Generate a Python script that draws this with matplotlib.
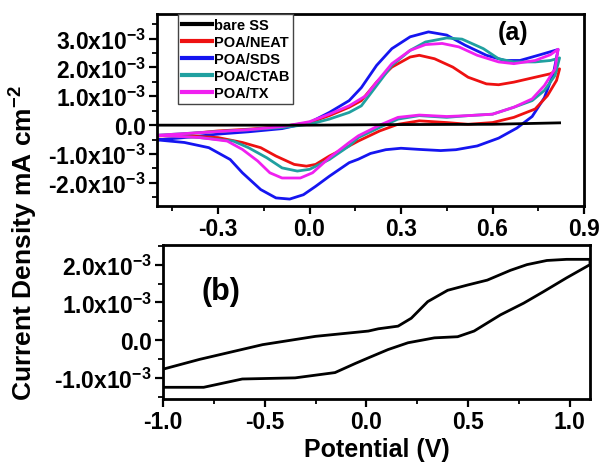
import matplotlib
matplotlib.use("Agg")
import matplotlib.pyplot as plt
from matplotlib.ticker import MultipleLocator, FixedLocator, FixedFormatter

plt.rcParams['font.family'] = ['Liberation Sans', 'DejaVu Sans']
plt.rcParams['font.weight'] = 'bold'
plt.rcParams['mathtext.fontset'] = 'custom'
plt.rcParams['mathtext.rm'] = 'Liberation Sans:bold'
plt.rcParams['mathtext.bf'] = 'Liberation Sans:bold'
plt.rcParams['mathtext.it'] = 'Liberation Sans:bold'
plt.rcParams['mathtext.default'] = 'rm'

# ---- data (current in units of 1e-3 mA cm^-2) ----
series_names = ["bare SS", "POA/NEAT", "POA/SDS", "POA/CTAB", "POA/TX"]
series_colors = ["#000000", "#ee1111", "#1515f0", "#20a0a0", "#f020f0"]

x_bare = [-0.50, -0.20, 0.00, 0.30, 0.60, 0.82]
y_bare = [0.00, 0.00, 0.00, 0.02, 0.03, 0.08]

x_neat = [-0.50, -0.41, -0.30, -0.20, -0.09, 0.00, 0.065, 0.13, 0.17, 0.22, 0.27, 0.33, 0.36, 0.41, 0.47, 0.52, 0.58, 0.62, 0.67, 0.74, 0.79, 0.82,
          0.81, 0.78, 0.74, 0.67, 0.60, 0.52, 0.45, 0.36, 0.29, 0.23, 0.16, 0.13, 0.065, 0.02, -0.01, -0.05, -0.11, -0.16, -0.22, -0.30, -0.41, -0.50]
y_neat = [-0.37, -0.31, -0.20, -0.14, -0.05, 0.09, 0.33, 0.62, 0.85, 1.49, 2.01, 2.36, 2.42, 2.30, 2.01, 1.66, 1.43, 1.40, 1.49, 1.66, 1.78, 1.95,
          1.55, 1.02, 0.56, 0.27, 0.09, 0.03, 0.09, 0.15, 0.03, -0.20, -0.55, -0.72, -1.07, -1.36, -1.42, -1.36, -1.07, -0.78, -0.60, -0.43, -0.37, -0.37]

x_sds = [-0.50, -0.41, -0.30, -0.20, -0.09, 0.00, 0.065, 0.13, 0.17, 0.22, 0.27, 0.33, 0.39, 0.45, 0.51, 0.58, 0.64, 0.69, 0.75, 0.815,
         0.80, 0.77, 0.73, 0.68, 0.62, 0.55, 0.48, 0.43, 0.36, 0.30, 0.25, 0.20, 0.16, 0.13, 0.065, 0.02, -0.02, -0.065, -0.11, -0.16, -0.22, -0.26, -0.33, -0.41, -0.50]
y_sds = [-0.51, -0.43, -0.31, -0.23, -0.12, 0.09, 0.44, 0.85, 1.30, 2.07, 2.65, 3.06, 3.23, 3.12, 2.77, 2.42, 2.24, 2.24, 2.42, 2.62,
         1.80, 0.95, 0.30, -0.10, -0.45, -0.72, -0.85, -0.88, -0.84, -0.80, -0.85, -0.98, -1.18, -1.30, -1.77, -2.12, -2.41, -2.56, -2.52, -2.23, -1.65, -1.19, -0.78, -0.60, -0.51]

x_ctab = [-0.50, -0.36, -0.20, -0.09, 0.00, 0.065, 0.13, 0.17, 0.22, 0.27, 0.33, 0.38, 0.45, 0.50, 0.57, 0.62, 0.67, 0.74, 0.79, 0.82,
          0.805, 0.77, 0.73, 0.67, 0.60, 0.52, 0.45, 0.36, 0.29, 0.23, 0.16, 0.13, 0.065, 0.00, -0.04, -0.09, -0.14, -0.20, -0.25, -0.36, -0.50]
y_ctab = [-0.35, -0.26, -0.16, -0.08, 0.03, 0.21, 0.44, 0.67, 1.37, 2.07, 2.59, 2.88, 3.02, 2.98, 2.65, 2.30, 2.19, 2.19, 2.24, 2.33,
          1.72, 1.20, 0.85, 0.62, 0.38, 0.33, 0.27, 0.33, 0.21, -0.08, -0.43, -0.72, -1.19, -1.53, -1.59, -1.48, -1.13, -0.78, -0.55, -0.43, -0.35]

x_tx = [-0.50, -0.36, -0.20, -0.09, 0.00, 0.065, 0.13, 0.185, 0.22, 0.27, 0.33, 0.38, 0.435, 0.49, 0.55, 0.62, 0.67, 0.74, 0.79, 0.815,
        0.805, 0.77, 0.73, 0.67, 0.60, 0.52, 0.45, 0.36, 0.29, 0.23, 0.16, 0.13, 0.065, 0.01, -0.03, -0.09, -0.13, -0.17, -0.22, -0.27, -0.36, -0.50]
y_tx = [-0.35, -0.26, -0.16, -0.05, 0.12, 0.38, 0.67, 1.02, 1.49, 2.13, 2.59, 2.79, 2.83, 2.71, 2.42, 2.19, 2.13, 2.24, 2.44, 2.63,
        1.95, 1.37, 0.91, 0.62, 0.38, 0.33, 0.30, 0.35, 0.27, 0.00, -0.37, -0.60, -1.13, -1.65, -1.83, -1.83, -1.65, -1.24, -0.84, -0.55, -0.43, -0.35]

x_b = [-1.00, -0.82, -0.51, -0.25, 0.01, 0.059, 0.156, 0.221, 0.302, 0.40, 0.498, 0.595, 0.709, 0.79, 0.888, 0.985, 1.10,
       1.10, 0.985, 0.87, 0.774, 0.66, 0.53, 0.449, 0.335, 0.205, 0.107, 0.01, -0.055, -0.154, -0.35, -0.61, -0.80, -1.00]
y_b = [-0.77, -0.51, -0.12, 0.10, 0.24, 0.30, 0.37, 0.58, 1.02, 1.32, 1.46, 1.59, 1.85, 2.00, 2.11, 2.14, 2.14,
       2.00, 1.65, 1.28, 0.98, 0.67, 0.24, 0.09, 0.06, -0.07, -0.25, -0.47, -0.62, -0.86, -1.00, -1.03, -1.25, -1.25]

yticks_a = [-2, -1, 0, 1, 2, 3]
yticklabels_a = [r"-2.0x10$^{-3}$", r"-1.0x10$^{-3}$", "0.0", r"1.0x10$^{-3}$", r"2.0x10$^{-3}$", r"3.0x10$^{-3}$"]
xticks_a = [-0.3, 0.0, 0.3, 0.6, 0.9]
xticklabels_a = ["-0.3", "0.0", "0.3", "0.6", "0.9"]
yticks_b = [-1, 0, 1, 2]
yticklabels_b = [r"-1.0x10$^{-3}$", "0.0", r"1.0x10$^{-3}$", r"2.0x10$^{-3}$"]
xticks_b = [-1.0, -0.5, 0.0, 0.5, 1.0]
xticklabels_b = ["-1.0", "-0.5", "0.0", "0.5", "1.0"]

W, H = 603, 464
fig = plt.figure(figsize=(W / 100, H / 100), dpi=100)
ax1 = fig.add_axes([157 / W, 1 - 207 / H, 427 / W, 192 / H])
ax2 = fig.add_axes([163 / W, 1 - 400 / H, 427 / W, 154 / H])

lw = 2.0
xs = [x_bare, x_neat, x_sds, x_ctab, x_tx]
ys = [y_bare, y_neat, y_sds, y_ctab, y_tx]
handles = {}
for i in [2, 1, 3, 4, 0]:
    h, = ax1.plot(xs[i], ys[i], color=series_colors[i], lw=lw, label=series_names[i])
    handles[i] = h

leg = ax1.legend([handles[i] for i in range(5)], series_names, loc='upper left',
                 bbox_to_anchor=(0.049, 1.0), frameon=True, fancybox=False,
                 handlelength=2.1, handletextpad=0.1, borderpad=0.25, labelspacing=0.22,
                 borderaxespad=0.0, prop={'weight': 'bold', 'size': 10.5})
leg.get_frame().set_edgecolor('#444444')
leg.get_frame().set_linewidth(1.0)
leg.get_frame().set_alpha(1.0)
for line in leg.get_lines():
    line.set_linewidth(3.0)

ax1.set_xlim(-0.5, 0.9)
ax1.set_ylim(-2.8, 3.85)
ax1.text(0.834, 0.906, "(a)", transform=ax1.transAxes, fontsize=18, fontweight='bold', ha='center', va='center')

ax2.plot(x_b, y_b, color='black', lw=lw)
ax2.set_xlim(-1.0, 1.1)
ax2.set_ylim(-1.56, 2.52)
ax2.text(0.136, 0.70, "(b)", transform=ax2.transAxes, fontsize=22, fontweight='bold', ha='center', va='center')

for ax, xt, xtl, yt, ytl, xmin, ymin in [
        (ax1, xticks_a, xticklabels_a, yticks_a, yticklabels_a, 0.15, 0.5),
        (ax2, xticks_b, xticklabels_b, yticks_b, yticklabels_b, 0.25, 0.5)]:
    ax.xaxis.set_major_locator(FixedLocator(xt))
    ax.xaxis.set_major_formatter(FixedFormatter(xtl))
    ax.yaxis.set_major_locator(FixedLocator(yt))
    ax.yaxis.set_major_formatter(FixedFormatter(ytl))
    ax.xaxis.set_minor_locator(MultipleLocator(xmin))
    ax.yaxis.set_minor_locator(MultipleLocator(ymin))
    ax.tick_params(which='major', direction='out', length=6, width=1.6, labelsize=16.5, pad=2)
    ax.tick_params(which='minor', direction='out', length=3.5, width=1.3)
    ax.tick_params(top=False, right=False)
    for s in ax.spines.values():
        s.set_linewidth(2.0)
    for t in ax.get_xticklabels() + ax.get_yticklabels():
        t.set_fontweight('bold')

ax2.set_xlabel("Potential (V)", fontsize=18, fontweight='bold', labelpad=3)
fig.text(0.04, 0.475, r"Current Density mA cm$^{-2}$", rotation=90, fontsize=19,
         fontweight='bold', ha='center', va='center')

fig.savefig("out.png", dpi=100)
